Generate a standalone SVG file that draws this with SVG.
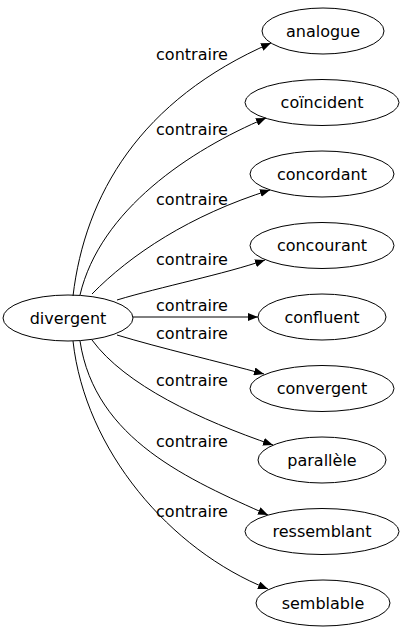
<svg xmlns="http://www.w3.org/2000/svg" width="404" height="635" viewBox="0 0 404 635">
<style>
  .node ellipse { fill: none; stroke: #000; stroke-width: 1; }
  text { font-family: "DejaVu Sans", sans-serif; font-size: 16px; fill: #000; text-anchor: middle; }
  .edges path { fill: none; stroke: #000; stroke-width: 1; }
</style>
<defs>
  <marker id="ah" markerWidth="10" markerHeight="8" refX="10" refY="4" orient="auto" markerUnits="userSpaceOnUse">
    <path d="M0,0 L10,4 L0,8 z" fill="#000"/>
  </marker>
</defs>
<rect width="404" height="635" fill="#fff"/>
<g id="edges" class="edges">
  <path d="M73,296 C85,195 140,100 271,43" marker-end="url(#ah)"/>
  <path d="M80,295 C100,210 190,150 266,118" marker-end="url(#ah)"/>
  <path d="M92,294 C130,255 190,215 270,190" marker-end="url(#ah)"/>
  <path d="M117,300 C160,287 225,274 265,260" marker-end="url(#ah)"/>
  <path d="M133,317 L258,317" marker-end="url(#ah)"/>
  <path d="M117,335 C160,348 220,362 264,374" marker-end="url(#ah)"/>
  <path d="M92,340 C125,385 200,420 273,445" marker-end="url(#ah)"/>
  <path d="M80,341 C95,440 190,480 268,515" marker-end="url(#ah)"/>
  <path d="M73,341 C85,450 170,550 268,589" marker-end="url(#ah)"/>
  <text x="192" y="60">contraire</text>
  <text x="192" y="135">contraire</text>
  <text x="192" y="205">contraire</text>
  <text x="192" y="265">contraire</text>
  <text x="192" y="311">contraire</text>
  <text x="192" y="339">contraire</text>
  <text x="192" y="386">contraire</text>
  <text x="192" y="447">contraire</text>
  <text x="192" y="517">contraire</text>
</g>
<g id="divergent" class="node"><ellipse cx="68" cy="318" rx="65" ry="23"/><text x="68" y="323.5">divergent</text></g>
<g id="analogue" class="node"><ellipse cx="323" cy="31" rx="61" ry="23"/><text x="323" y="36.5">analogue</text></g>
<g id="coincident" class="node"><ellipse cx="322" cy="102.5" rx="77" ry="23"/><text x="322" y="108">coïncident</text></g>
<g id="concordant" class="node"><ellipse cx="322" cy="174" rx="72" ry="23"/><text x="322" y="179.5">concordant</text></g>
<g id="concourant" class="node"><ellipse cx="322" cy="245.5" rx="72" ry="23"/><text x="322" y="251">concourant</text></g>
<g id="confluent" class="node"><ellipse cx="322" cy="317" rx="64" ry="23"/><text x="322" y="322.5">confluent</text></g>
<g id="convergent" class="node"><ellipse cx="322" cy="388.5" rx="72" ry="23"/><text x="322" y="394">convergent</text></g>
<g id="parallele" class="node"><ellipse cx="322" cy="460" rx="64" ry="23"/><text x="322" y="465.5">parallèle</text></g>
<g id="ressemblant" class="node"><ellipse cx="322" cy="531.5" rx="77" ry="23"/><text x="322" y="537">ressemblant</text></g>
<g id="semblable" class="node"><ellipse cx="323" cy="603" rx="67" ry="23"/><text x="323" y="608.5">semblable</text></g>
</svg>
